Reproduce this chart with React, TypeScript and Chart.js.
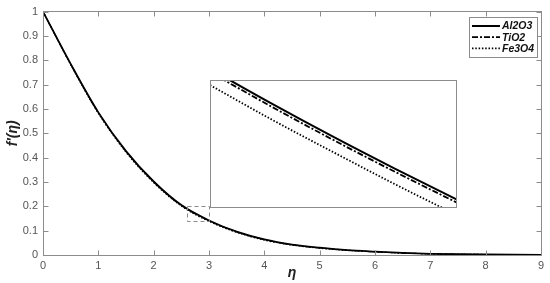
import React, { useEffect, useRef } from "react";
import { Chart, registerables } from "chart.js";
Chart.register(...registerables);

// ---------- data ----------
const ETA = [0, 0.5, 1, 1.5, 2, 2.5, 3, 3.5, 4, 4.5, 5, 5.5, 6, 6.5, 7, 7.5, 8, 8.5, 9];
const AL2O3 = [1.0, 0.785, 0.586, 0.427, 0.302, 0.205, 0.142, 0.096, 0.064, 0.043, 0.030, 0.020, 0.014, 0.009, 0.005, 0.003, 0.002, 0.001, 0.0];
const TIO2 = [1.0, 0.784, 0.585, 0.426, 0.301, 0.204, 0.141, 0.095, 0.063, 0.042, 0.029, 0.020, 0.013, 0.008, 0.005, 0.003, 0.002, 0.001, 0.0];
const FE3O4 = [1.0, 0.782, 0.582, 0.422, 0.297, 0.201, 0.138, 0.093, 0.061, 0.041, 0.028, 0.019, 0.013, 0.008, 0.005, 0.003, 0.002, 0.001, 0.0];

const SERIES_NAMES = ["Al2O3", "TiO2", "Fe3O4"];

const X_TICKS = [0, 1, 2, 3, 4, 5, 6, 7, 8, 9];
const X_TICK_LABELS = ["0", "1", "2", "3", "4", "5", "6", "7", "8", "9"];
const Y_TICKS = [0, 0.1, 0.2, 0.3, 0.4, 0.5, 0.6, 0.7, 0.8, 0.9, 1];
const Y_TICK_LABELS = ["0", "0.1", "0.2", "0.3", "0.4", "0.5", "0.6", "0.7", "0.8", "0.9", "1"];

const X_TITLE = "η";
const Y_TITLE = "f'(η)";

// zoomed region (inset)
const ZOOM_X = [2.6, 3.0];
const ZOOM_Y = [0.138, 0.203];
const INSET_ETA = [2.6, 2.7, 2.8, 2.9, 3.0];
const INSET_AL2O3 = [0.2086, 0.1910, 0.1741, 0.1579, 0.1423];
const INSET_TIO2 = [0.2070, 0.1894, 0.1725, 0.1563, 0.1407];
const INSET_FE3O4 = [0.2004, 0.1829, 0.1663, 0.1500, 0.1344];

// ---------- styles ----------
const FONT = "Arial, 'Liberation Sans', sans-serif";
const AXIS_COLOR = "#8c8c8c";
const TICK_COLOR = "#555555";
const LINE_STYLES = [
  { dash: [] as number[], width: 2 },
  { dash: [6, 2, 2, 2], width: 1.8 },
  { dash: [1.5, 1.8], width: 1.8 },
];
const MAIN_WIDTHS = [1.8, 1.2, 1.2];

const toPoints = (xs: number[], ys: number[]) => xs.map((x, i) => ({ x, y: ys[i] }));

const makeDatasets = (xs: number[], series: number[][], widths: number[], clip?: number) =>
  series.map((ys, i) => ({
    label: SERIES_NAMES[i],
    data: toPoints(xs, ys),
    borderColor: "#000000",
    borderWidth: widths[i],
    borderDash: LINE_STYLES[i].dash,
    pointRadius: 0,
    fill: false,
    cubicInterpolationMode: "monotone" as const,
    ...(clip !== undefined ? { clip } : {}),
  }));

const framePlugin = {
  id: "frame",
  afterDraw(chart: any) {
    const { ctx, chartArea, scales } = chart;
    const l = Math.floor(chartArea.left) + 0.5;
    const r = Math.floor(chartArea.right) + 0.5;
    const t = Math.floor(chartArea.top) + 0.5;
    const b = Math.floor(chartArea.bottom) + 0.5;
    ctx.save();
    ctx.strokeStyle = AXIS_COLOR;
    ctx.lineWidth = 1;
    ctx.setLineDash([]);
    ctx.strokeRect(l, t, r - l, b - t);
    const tl = 5;
    ctx.beginPath();
    X_TICKS.forEach((v) => {
      const px = Math.round(scales.x.getPixelForValue(v)) + 0.5;
      ctx.moveTo(px, b);
      ctx.lineTo(px, b - tl);
      ctx.moveTo(px, t);
      ctx.lineTo(px, t + tl);
    });
    Y_TICKS.forEach((v) => {
      const py = Math.round(scales.y.getPixelForValue(v)) + 0.5;
      ctx.moveTo(l, py);
      ctx.lineTo(l + tl, py);
      ctx.moveTo(r, py);
      ctx.lineTo(r - tl, py);
    });
    ctx.stroke();

    // dashed zoom box
    const zx0 = Math.round(scales.x.getPixelForValue(ZOOM_X[0])) + 0.5;
    const zx1 = Math.round(scales.x.getPixelForValue(ZOOM_X[1])) + 0.5;
    const zy0 = Math.round(scales.y.getPixelForValue(ZOOM_Y[0])) + 0.5;
    const zy1 = Math.round(scales.y.getPixelForValue(ZOOM_Y[1])) + 0.5;
    ctx.setLineDash([4, 3]);
    ctx.strokeStyle = "#8a8a8a";
    ctx.strokeRect(zx0, zy1, zx1 - zx0, zy0 - zy1);
    ctx.setLineDash([]);

    // legend
    const bx = 469.5, by = 17.5, bw = 68, bh = 40;
    ctx.fillStyle = "#ffffff";
    ctx.fillRect(bx, by, bw, bh);
    ctx.strokeStyle = "#8c8c8c";
    ctx.strokeRect(bx, by, bw, bh);
    chart.data.datasets.forEach((ds: any, i: number) => {
      const yy = 26 + i * 11.2;
      ctx.beginPath();
      ctx.strokeStyle = "#000";
      ctx.lineWidth = LINE_STYLES[i].width;
      ctx.setLineDash(ds.borderDash || []);
      ctx.moveTo(472, yy);
      ctx.lineTo(500, yy);
      ctx.stroke();
      ctx.setLineDash([]);
      ctx.fillStyle = "#111";
      ctx.font = `italic bold 10.5px ${FONT}`;
      ctx.textBaseline = "middle";
      ctx.textAlign = "left";
      ctx.fillText(ds.label, 502, yy + 0.5);
    });
    ctx.restore();
  },
};

const insetFramePlugin = {
  id: "insetFrame",
  afterDraw(chart: any) {
    const { ctx, width, height } = chart;
    ctx.save();
    ctx.strokeStyle = AXIS_COLOR;
    ctx.lineWidth = 1;
    ctx.strokeRect(0.5, 0.5, width - 1, height - 1);
    ctx.restore();
  },
};

export default function App() {
  const mainRef = useRef<HTMLCanvasElement>(null);
  const insetRef = useRef<HTMLCanvasElement>(null);

  useEffect(() => {
    document.body.style.margin = "0";
    const main = new Chart(mainRef.current!, {
      type: "line",
      data: { datasets: makeDatasets(ETA, [AL2O3, TIO2, FE3O4], MAIN_WIDTHS) as any },
      options: {
        animation: false,
        responsive: false,
        devicePixelRatio: 1,
        layout: { padding: { top: 9, right: 9, left: 0, bottom: 0 } },
        plugins: { legend: { display: false }, tooltip: { enabled: false } },
        scales: {
          x: {
            type: "linear",
            min: 0,
            max: 9,
            grid: { display: false, drawTicks: false },
            border: { display: false },
            afterBuildTicks: (s: any) => {
              s.ticks = X_TICKS.map((v) => ({ value: v }));
            },
            afterFit: (s: any) => {
              s.height = 28;
            },
            ticks: {
              autoSkip: false,
              maxRotation: 0,
              padding: 4,
              color: TICK_COLOR,
              font: { family: FONT, size: 11 },
              callback: (_v: any, i: number) => X_TICK_LABELS[i],
            },
            title: {
              display: true,
              text: X_TITLE,
              color: "#222",
              font: { family: FONT, size: 14, style: "italic", weight: "bold" },
              padding: { top: 0, bottom: 1 },
            },
          },
          y: {
            type: "linear",
            min: 0,
            max: 1,
            grid: { display: false, drawTicks: false },
            border: { display: false },
            afterBuildTicks: (s: any) => {
              s.ticks = Y_TICKS.map((v) => ({ value: v }));
            },
            afterFit: (s: any) => {
              s.width = 43;
            },
            ticks: {
              autoSkip: false,
              padding: 5,
              color: TICK_COLOR,
              font: { family: FONT, size: 11 },
              callback: (_v: any, i: number) => Y_TICK_LABELS[i],
            },
            title: {
              display: true,
              text: Y_TITLE,
              color: "#222",
              font: { family: FONT, size: 14, style: "italic", weight: "bold" },
              padding: { top: 4.5, bottom: 0 },
            },
          },
        },
      },
      plugins: [framePlugin],
    } as any);

    const inset = new Chart(insetRef.current!, {
      type: "line",
      data: {
        datasets: makeDatasets(
          INSET_ETA,
          [INSET_AL2O3, INSET_TIO2, INSET_FE3O4],
          LINE_STYLES.map((s) => s.width),
          0
        ) as any,
      },
      options: {
        animation: false,
        responsive: false,
        devicePixelRatio: 1,
        layout: { padding: 0 },
        plugins: { legend: { display: false }, tooltip: { enabled: false } },
        scales: {
          x: { type: "linear", display: false, min: ZOOM_X[0], max: ZOOM_X[1] },
          y: { type: "linear", display: false, min: ZOOM_Y[0], max: ZOOM_Y[1] },
        },
      },
      plugins: [insetFramePlugin],
    } as any);

    return () => {
      main.destroy();
      inset.destroy();
    };
  }, []);

  return (
    <div style={{ position: "relative", width: 550, height: 283, background: "#fff", overflow: "hidden" }}>
      <canvas ref={mainRef} width={550} height={283} style={{ position: "absolute", left: 0, top: 0 }} />
      <div style={{ position: "absolute", left: 210, top: 80, width: 247, height: 128, background: "#fff" }}>
        <canvas ref={insetRef} width={247} height={128} style={{ display: "block" }} />
      </div>
    </div>
  );
}
